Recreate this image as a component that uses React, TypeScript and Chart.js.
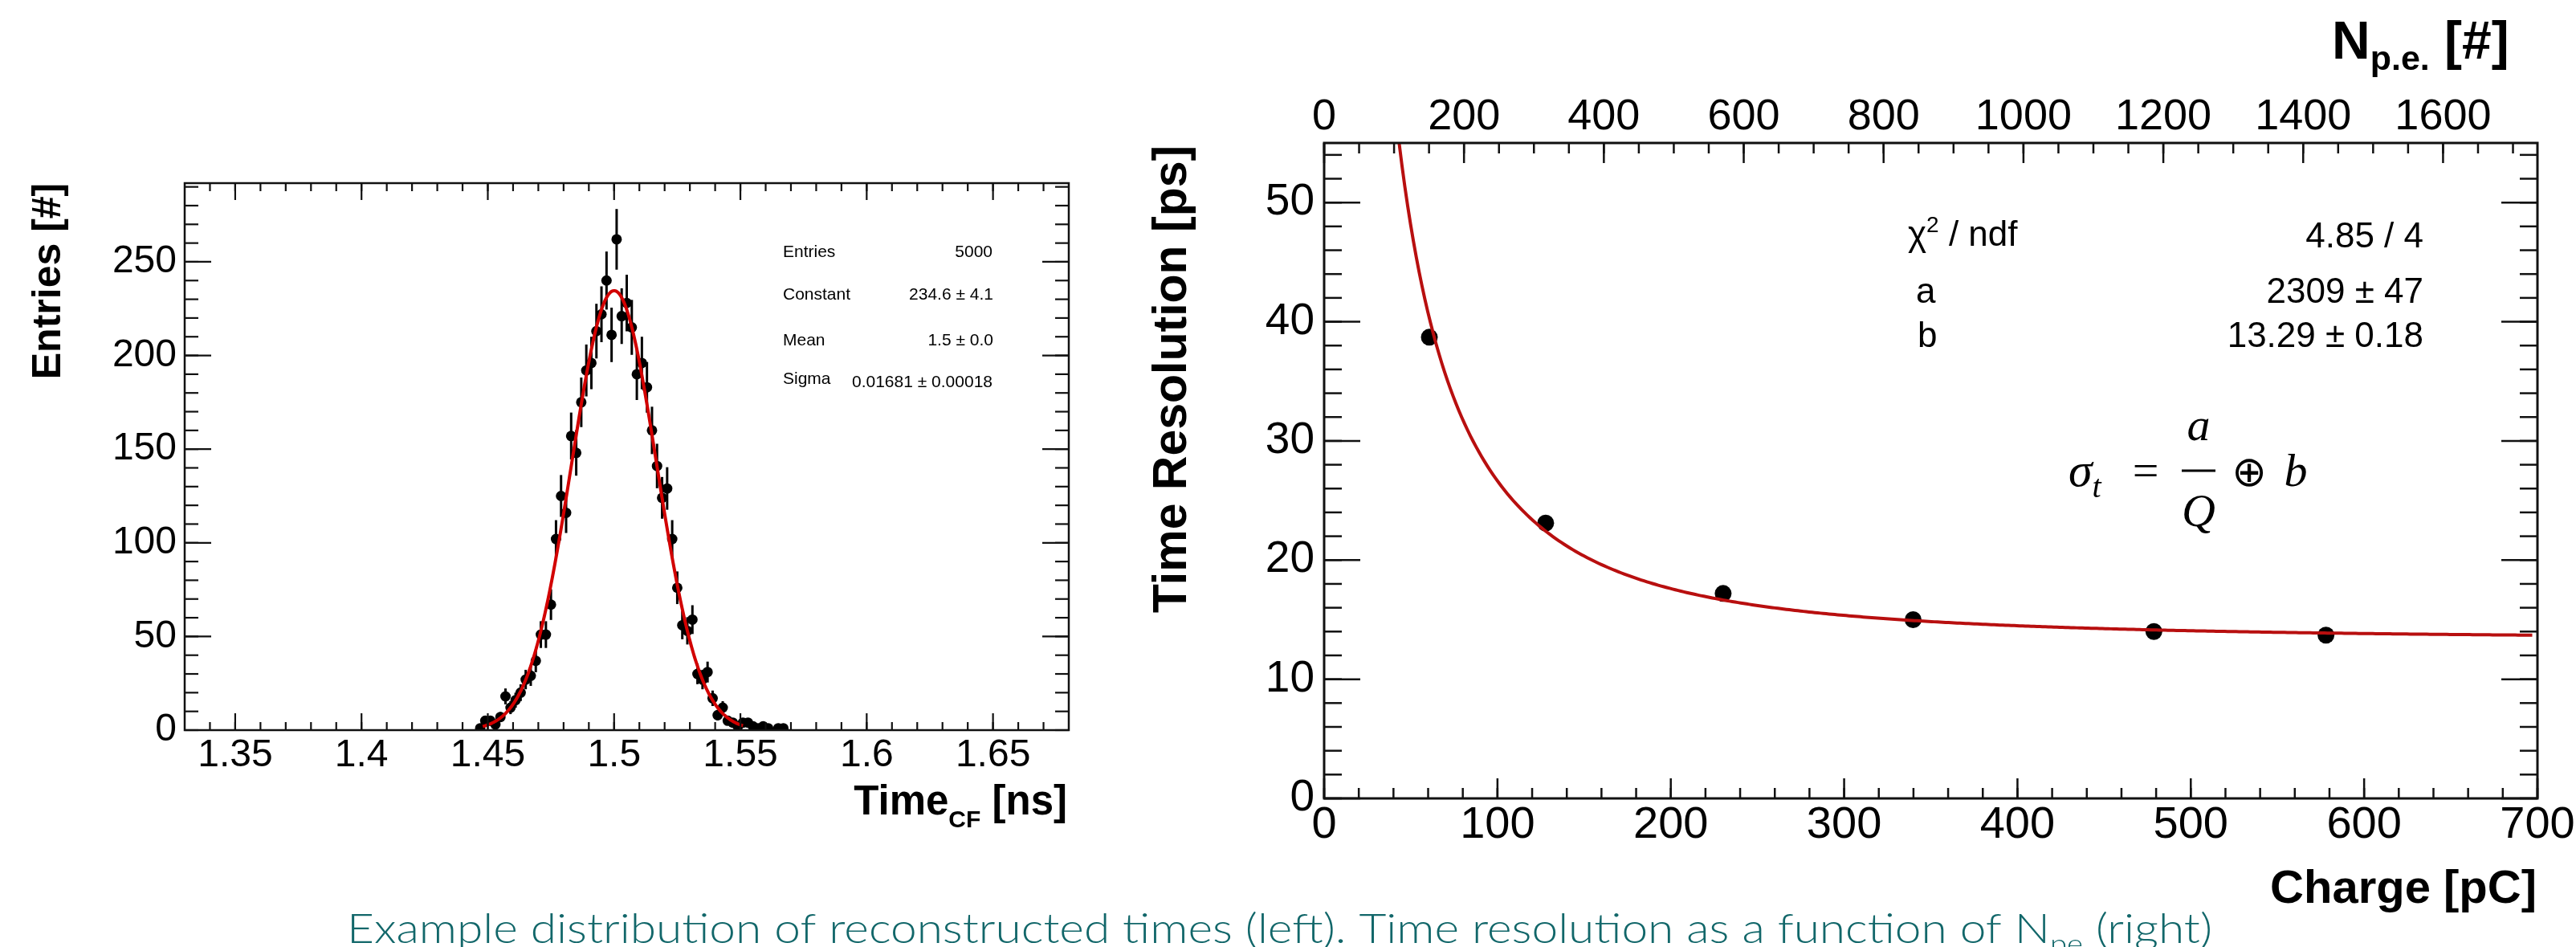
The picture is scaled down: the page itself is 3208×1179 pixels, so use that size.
import React, { useEffect, useRef } from 'react';
import { Chart, registerables } from 'chart.js';

Chart.register(...registerables);

const FONT = "'Liberation Sans', Arial, Helvetica, sans-serif";
const SERIF = "'Liberation Serif', 'DejaVu Serif', serif";

// ---------------- Left panel: Time_CF histogram ----------------
const timeBinCenters = [
  1.447, 1.449, 1.451, 1.453, 1.455, 1.457, 1.459, 1.461, 1.463, 1.465,
  1.467, 1.469, 1.471, 1.473, 1.475, 1.477, 1.479, 1.481, 1.483, 1.485,
  1.487, 1.489, 1.491, 1.493, 1.495, 1.497, 1.499, 1.501, 1.503, 1.505,
  1.507, 1.509, 1.511, 1.513, 1.515, 1.517, 1.519, 1.521, 1.523, 1.525,
  1.527, 1.529, 1.531, 1.533, 1.535, 1.537, 1.539, 1.541, 1.543, 1.545,
  1.547, 1.549, 1.551, 1.553, 1.555, 1.557, 1.559, 1.561, 1.563, 1.565,
  1.567,
];
const timeEntries = [
  1, 5, 5, 3, 7, 18, 12, 16, 20, 27,
  29, 37, 51, 51, 67, 102, 125, 116, 157, 148,
  175, 192, 196, 213, 222, 240, 211, 262, 221, 228,
  215, 190, 196, 183, 160, 141, 124, 129, 102, 76,
  56, 53, 59, 30, 27, 31, 17, 8, 12, 5,
  4, 2, 4, 4, 2, 1, 2, 1, 0, 1,
  1,
];
// Gaussian fit parameters (from the stats box)
const gaussConstant = 234.6;
const gaussMean = 1.5;
const gaussSigma = 0.01681;
const gaussFitRange = [1.448, 1.551];

const timeAxisRange = [1.33, 1.68];
const entriesAxisRange = [0, 292];
const timeTickLabels = [1.35, 1.4, 1.45, 1.5, 1.55, 1.6, 1.65];
const entriesTickLabels = [0, 50, 100, 150, 200, 250];

// ---------------- Right panel: time resolution vs charge ----------------
const chargeValues = [60.7, 127.8, 230.2, 339.8, 478.7, 578.0];
const resolutionValues = [38.7, 23.1, 17.2, 15.0, 14.0, 13.7];
// Fit sigma_t = a/Q (+) b
const fitA = 2309;
const fitB = 13.29;
const fitRangeQ = [40, 697];

const chargeAxisRange = [0, 700];
const resolutionAxisRange = [0, 55];
const npeAxisRange = [0, 1735];
const chargeTickLabels = [0, 100, 200, 300, 400, 500, 600, 700];
const resolutionTickLabels = [0, 10, 20, 30, 40, 50];
const npeTickLabels = [0, 200, 400, 600, 800, 1000, 1200, 1400, 1600];

// ---------------- helpers ----------------
function steps(from: number, to: number, step: number): number[] {
  const out: number[] = [];
  const n = Math.round((to - from) / step);
  for (let i = 0; i <= n; i++) out.push(+(from + i * step).toFixed(6));
  return out;
}

type Seg = { t: string; font: string; dy?: number };
type TextItem = {
  segs: Seg[];
  x: number;
  y: number;
  align?: 'left' | 'right' | 'center';
  baseline?: CanvasTextBaseline;
  rotate?: boolean;
  color?: string;
};

function drawRich(ctx: CanvasRenderingContext2D, item: TextItem) {
  ctx.save();
  ctx.fillStyle = item.color || '#000';
  ctx.textAlign = 'left';
  ctx.textBaseline = item.baseline || 'alphabetic';
  const widths = item.segs.map((s) => {
    ctx.font = s.font;
    return ctx.measureText(s.t).width;
  });
  const total = widths.reduce((a, b) => a + b, 0);
  let ox = item.x;
  let oy = item.y;
  if (item.rotate) {
    ctx.translate(item.x, item.y);
    ctx.rotate(-Math.PI / 2);
    ox = 0;
    oy = 0;
  }
  const align = item.align || 'left';
  let cx = align === 'left' ? ox : align === 'right' ? ox - total : ox - total / 2;
  item.segs.forEach((s, i) => {
    ctx.font = s.font;
    ctx.fillText(s.t, cx, oy + (s.dy || 0));
    cx += widths[i];
  });
  ctx.restore();
}

type TickSpec = {
  scale: string;
  sides: ('left' | 'right' | 'top' | 'bottom')[];
  major: number[];
  minor: number[];
  majorLen: number;
  minorLen: number;
};

function makeFramePlugin(id: string, ticks: TickSpec[], frameWidth: number, tickWidth: number) {
  return {
    id,
    afterDatasetsDraw(chart: any) {
      const { ctx, chartArea: a } = chart;
      ctx.save();
      ctx.strokeStyle = '#111';
      ctx.lineWidth = tickWidth;
      for (const t of ticks) {
        const scale = chart.scales[t.scale];
        const draw = (v: number, len: number) => {
          const p = scale.getPixelForValue(v);
          for (const side of t.sides) {
            ctx.beginPath();
            if (side === 'bottom') { ctx.moveTo(p, a.bottom); ctx.lineTo(p, a.bottom - len); }
            if (side === 'top') { ctx.moveTo(p, a.top); ctx.lineTo(p, a.top + len); }
            if (side === 'left') { ctx.moveTo(a.left, p); ctx.lineTo(a.left + len, p); }
            if (side === 'right') { ctx.moveTo(a.right, p); ctx.lineTo(a.right - len, p); }
            ctx.stroke();
          }
        };
        t.minor.forEach((v) => draw(v, t.minorLen));
        t.major.forEach((v) => draw(v, t.majorLen));
      }
      ctx.lineWidth = frameWidth;
      ctx.strokeRect(a.left, a.top, a.right - a.left, a.bottom - a.top);
      ctx.restore();
    },
  };
}

function makeTextPlugin(id: string, items: TextItem[], extra?: (ctx: CanvasRenderingContext2D) => void) {
  return {
    id,
    afterDraw(chart: any) {
      const ctx = chart.ctx as CanvasRenderingContext2D;
      items.forEach((it) => drawRich(ctx, it));
      if (extra) extra(ctx);
    },
  };
}

const errorBarPlugin = {
  id: 'poissonErrors',
  beforeDatasetsDraw(chart: any) {
    const idx = 1;
    const meta = chart.getDatasetMeta(idx);
    const ds = chart.data.datasets[idx];
    const ys = chart.scales.y;
    const { ctx, chartArea: a } = chart;
    ctx.save();
    ctx.beginPath();
    ctx.rect(a.left, a.top, a.right - a.left, a.bottom - a.top);
    ctx.clip();
    ctx.strokeStyle = '#000';
    ctx.lineWidth = 3;
    ds.data.forEach((pt: any, i: number) => {
      const el = meta.data[i];
      if (!el || pt.y <= 0) return;
      const err = Math.sqrt(pt.y); // Poisson error on bin content
      ctx.beginPath();
      ctx.moveTo(el.x, ys.getPixelForValue(pt.y - err));
      ctx.lineTo(el.x, ys.getPixelForValue(pt.y + err));
      ctx.stroke();
    });
    ctx.restore();
  },
};

function fmtTime(v: number) {
  return String(Number(v.toFixed(2)));
}

const CANVAS_H = 1179;

function leftConfig(): any {
  const histPoints = timeBinCenters
    .map((x, i) => ({ x, y: timeEntries[i] }))
    .filter((p) => p.y > 0);
  const gaussCurve: { x: number; y: number }[] = [];
  const n = 300;
  for (let i = 0; i <= n; i++) {
    const x = gaussFitRange[0] + ((gaussFitRange[1] - gaussFitRange[0]) * i) / n;
    gaussCurve.push({ x, y: gaussConstant * Math.exp(-0.5 * ((x - gaussMean) / gaussSigma) ** 2) });
  }
  const B = `bold 51px ${FONT}`;
  const items: TextItem[] = [
    { segs: [{ t: 'Entries [#]', font: `bold 50px ${FONT}` }], x: 75, y: 350, align: 'center', rotate: true },
    {
      segs: [
        { t: 'Time', font: B },
        { t: 'CF', font: `bold 30px ${FONT}`, dy: 16 },
        { t: ' [ns]', font: B },
      ],
      x: 1329, y: 1014, align: 'right',
    },
    { segs: [{ t: 'Entries', font: `21px ${FONT}` }], x: 975, y: 320 },
    { segs: [{ t: '5000', font: `21px ${FONT}` }], x: 1236, y: 320, align: 'right' },
    { segs: [{ t: 'Constant', font: `21px ${FONT}` }], x: 975, y: 373 },
    { segs: [{ t: '234.6 ± 4.1', font: `21px ${FONT}` }], x: 1237, y: 373, align: 'right' },
    { segs: [{ t: 'Mean', font: `21px ${FONT}` }], x: 975, y: 430 },
    { segs: [{ t: '1.5 ± 0.0', font: `21px ${FONT}` }], x: 1237, y: 430, align: 'right' },
    { segs: [{ t: 'Sigma', font: `21px ${FONT}` }], x: 975, y: 478 },
    { segs: [{ t: '0.01681 ± 0.00018', font: `21px ${FONT}` }], x: 1236, y: 482, align: 'right' },
  ];
  return {
    type: 'scatter',
    data: {
      datasets: [
        {
          label: 'Gaussian fit',
          data: gaussCurve,
          showLine: true,
          borderColor: '#d20000',
          borderWidth: 4,
          pointRadius: 0,
          order: 0,
        },
        {
          label: 'Entries',
          data: histPoints,
          showLine: false,
          pointRadius: 6.5,
          pointBackgroundColor: '#000',
          pointBorderColor: '#000',
          pointBorderWidth: 0,
          order: 1,
        },
      ],
    },
    options: {
      responsive: false,
      animation: false,
      events: [],
      layout: { padding: { left: 0, top: 228, right: 69, bottom: CANVAS_H - 909 - 80 } },
      plugins: { legend: { display: false }, tooltip: { enabled: false } },
      scales: {
        x: {
          type: 'linear',
          min: timeAxisRange[0],
          max: timeAxisRange[1],
          grid: { display: false, drawTicks: false },
          border: { display: false },
          ticks: {
            font: { family: FONT, size: 48, lineHeight: 1 },
            color: '#000',
            padding: 8,
            autoSkip: false,
            maxRotation: 0,
            minRotation: 0,
            callback: (v: any) => fmtTime(Number(v)),
          },
          afterBuildTicks: (s: any) => {
            s.ticks = timeTickLabels.map((v) => ({ value: v }));
          },
          afterFit: (s: any) => {
            s.height = 80;
          },
        },
        y: {
          type: 'linear',
          min: entriesAxisRange[0],
          max: entriesAxisRange[1],
          grid: { display: false, drawTicks: false },
          border: { display: false },
          ticks: {
            font: { family: FONT, size: 48, lineHeight: 1 },
            color: '#000',
            padding: 10,
            autoSkip: false,
            callback: (v: any) => String(v),
          },
          afterBuildTicks: (s: any) => {
            s.ticks = entriesTickLabels.map((v) => ({ value: v }));
          },
          afterFit: (s: any) => {
            s.width = 230;
          },
        },
      },
    },
    plugins: [
      errorBarPlugin,
      makeFramePlugin(
        'leftFrame',
        [
          { scale: 'x', sides: ['bottom', 'top'], major: timeTickLabels, minor: steps(1.34, 1.67, 0.01), majorLen: 21, minorLen: 10 },
          { scale: 'y', sides: ['left', 'right'], major: entriesTickLabels, minor: steps(0, 290, 10), majorLen: 33, minorLen: 17 },
        ],
        2.5,
        2.2
      ),
      makeTextPlugin('leftText', items),
    ],
  };
}

const RIGHT_W = 1908;

function rightConfig(): any {
  const points = chargeValues.map((x, i) => ({ x, y: resolutionValues[i] }));
  const fitCurve: { x: number; y: number }[] = [];
  const n = 400;
  for (let i = 0; i <= n; i++) {
    const q = fitRangeQ[0] + ((fitRangeQ[1] - fitRangeQ[0]) * i) / n;
    fitCurve.push({ x: q, y: Math.sqrt((fitA / q) ** 2 + fitB ** 2) });
  }
  const OX = 1400;
  const S44 = `44px ${FONT}`;
  const items: TextItem[] = [
    { segs: [{ t: 'Time Resolution [ps]', font: `bold 59px ${FONT}` }], x: 77, y: 472, align: 'center', rotate: true },
    { segs: [{ t: 'Charge [pC]', font: `bold 58px ${FONT}` }], x: 3159 - OX, y: 1124, align: 'right' },
    {
      segs: [
        { t: 'N', font: `bold 66px ${FONT}` },
        { t: 'p.e.', font: `bold 43px ${FONT}`, dy: 14 },
        { t: ' [#]', font: `bold 66px ${FONT}` },
      ],
      x: 2904 - OX, y: 73,
    },
    {
      segs: [
        { t: 'χ', font: S44 },
        { t: '2', font: `28px ${FONT}`, dy: -17 },
        { t: ' / ndf', font: S44 },
      ],
      x: 2376 - OX, y: 306,
    },
    { segs: [{ t: 'a', font: S44 }], x: 2386 - OX, y: 377 },
    { segs: [{ t: 'b', font: S44 }], x: 2388 - OX, y: 432 },
    { segs: [{ t: '4.85 / 4', font: S44 }], x: 3018 - OX, y: 308, align: 'right' },
    { segs: [{ t: '2309 ± 47', font: S44 }], x: 3018 - OX, y: 377, align: 'right' },
    { segs: [{ t: '13.29 ± 0.18', font: S44 }], x: 3018 - OX, y: 432, align: 'right' },
    // formula sigma_t = a/Q (+) b
    {
      segs: [
        { t: 'σ', font: `italic 60px ${SERIF}` },
        { t: 't', font: `italic 40px ${SERIF}`, dy: 14 },
      ],
      x: 2576 - OX, y: 605,
    },
    { segs: [{ t: '=', font: `58px ${SERIF}` }], x: 2672 - OX, y: 605, align: 'center' },
    { segs: [{ t: 'a', font: `italic 58px ${SERIF}` }], x: 2738 - OX, y: 548, align: 'center' },
    { segs: [{ t: 'Q', font: `italic 58px ${SERIF}` }], x: 2738 - OX, y: 655, align: 'center' },
    { segs: [{ t: '⊕', font: `52px 'DejaVu Sans', sans-serif` }], x: 2801 - OX, y: 605, align: 'center' },
    { segs: [{ t: 'b', font: `italic 58px ${SERIF}` }], x: 2859 - OX, y: 605, align: 'center' },
  ];
  const fractionBar = (ctx: CanvasRenderingContext2D) => {
    ctx.save();
    ctx.strokeStyle = '#000';
    ctx.lineWidth = 3;
    ctx.beginPath();
    ctx.moveTo(2717 - OX, 586);
    ctx.lineTo(2759 - OX, 586);
    ctx.stroke();
    ctx.restore();
  };
  return {
    type: 'scatter',
    data: {
      datasets: [
        {
          label: 'Fit',
          data: fitCurve,
          showLine: true,
          borderColor: '#b80f0f',
          borderWidth: 4,
          pointRadius: 0,
          order: 0,
        },
        {
          label: 'Resolution',
          data: points,
          showLine: false,
          pointRadius: 10.5,
          pointBackgroundColor: '#000',
          pointBorderColor: '#000',
          pointBorderWidth: 0,
          order: 1,
        },
      ],
    },
    options: {
      responsive: false,
      animation: false,
      events: [],
      layout: { padding: { left: 0, top: 68, right: RIGHT_W - 1760, bottom: CANVAS_H - 994 - 90 } },
      plugins: { legend: { display: false }, tooltip: { enabled: false } },
      scales: {
        x: {
          type: 'linear',
          position: 'bottom',
          min: chargeAxisRange[0],
          max: chargeAxisRange[1],
          grid: { display: false, drawTicks: false },
          border: { display: false },
          ticks: {
            font: { family: FONT, size: 56, lineHeight: 1 },
            color: '#000',
            padding: 6,
            autoSkip: false,
            maxRotation: 0,
            minRotation: 0,
            callback: (v: any) => String(v),
          },
          afterBuildTicks: (s: any) => {
            s.ticks = chargeTickLabels.map((v) => ({ value: v }));
          },
          afterFit: (s: any) => {
            s.height = 90;
          },
        },
        x2: {
          type: 'linear',
          position: 'top',
          min: npeAxisRange[0],
          max: npeAxisRange[1],
          grid: { display: false, drawTicks: false },
          border: { display: false },
          ticks: {
            font: { family: FONT, size: 54, lineHeight: 1 },
            color: '#000',
            padding: 5,
            autoSkip: false,
            maxRotation: 0,
            minRotation: 0,
            callback: (v: any) => String(v),
          },
          afterBuildTicks: (s: any) => {
            s.ticks = npeTickLabels.map((v) => ({ value: v }));
          },
          afterFit: (s: any) => {
            s.height = 110;
          },
        },
        y: {
          type: 'linear',
          min: resolutionAxisRange[0],
          max: resolutionAxisRange[1],
          grid: { display: false, drawTicks: false },
          border: { display: false },
          ticks: {
            font: { family: FONT, size: 55, lineHeight: 1 },
            color: '#000',
            padding: 12,
            autoSkip: false,
            callback: (v: any) => String(v),
          },
          afterBuildTicks: (s: any) => {
            s.ticks = resolutionTickLabels.map((v) => ({ value: v }));
          },
          afterFit: (s: any) => {
            s.width = 249;
          },
        },
      },
    },
    plugins: [
      makeFramePlugin(
        'rightFrame',
        [
          { scale: 'x', sides: ['bottom'], major: chargeTickLabels, minor: steps(0, 700, 20), majorLen: 25, minorLen: 13 },
          { scale: 'x2', sides: ['top'], major: npeTickLabels, minor: steps(0, 1700, 50), majorLen: 25, minorLen: 13 },
          { scale: 'y', sides: ['left', 'right'], major: resolutionTickLabels, minor: steps(0, 54, 2), majorLen: 45, minorLen: 22 },
        ],
        3,
        2.5
      ),
      makeTextPlugin('rightText', items, fractionBar),
    ],
  };
}

const captionMain = 'Example distribution of reconstructed times (left). Time resolution as a function of N';
const captionSub = 'pe';
const captionEnd = ' (right)';

function drawCaption(canvas: HTMLCanvasElement) {
  const ctx = canvas.getContext('2d');
  if (!ctx) return;
  ctx.clearRect(0, 0, canvas.width, canvas.height);
  const main = `300 52px Lato, 'Noto Sans', sans-serif`;
  const sub = `300 34px Lato, 'Noto Sans', sans-serif`;
  const segs = [
    { t: captionMain, font: main, dy: 0 },
    { t: captionSub, font: sub, dy: 13 },
    { t: captionEnd, font: main, dy: 0 },
  ];
  const widths = segs.map((s) => {
    ctx.font = s.font;
    return ctx.measureText(s.t).width;
  });
  const total = widths.reduce((a, b) => a + b, 0);
  const targetWidth = 2323;
  ctx.save();
  ctx.translate(432, 59);
  ctx.scale(targetWidth / total, 1);
  ctx.fillStyle = '#12676a';
  ctx.textBaseline = 'alphabetic';
  let x = 0;
  segs.forEach((s, i) => {
    ctx.font = s.font;
    ctx.fillText(s.t, x, s.dy);
    x += widths[i];
  });
  ctx.restore();
}

export default function App() {
  const leftRef = useRef<HTMLCanvasElement>(null);
  const rightRef = useRef<HTMLCanvasElement>(null);
  const capRef = useRef<HTMLCanvasElement>(null);

  useEffect(() => {
    const c1 = new Chart(leftRef.current as HTMLCanvasElement, leftConfig());
    const c2 = new Chart(rightRef.current as HTMLCanvasElement, rightConfig());
    if (capRef.current) drawCaption(capRef.current);
    return () => {
      c1.destroy();
      c2.destroy();
    };
  }, []);

  return (
    <div
      style={{
        position: 'absolute',
        left: 0,
        top: 0,
        width: 3208,
        height: 1179,
        overflow: 'hidden',
        background: '#fff',
      }}
    >
      <div style={{ position: 'absolute', left: 0, top: 0, width: 1400, height: CANVAS_H }}>
        <canvas ref={leftRef} width={1400} height={CANVAS_H} style={{ width: 1400, height: CANVAS_H }} />
      </div>
      <div style={{ position: 'absolute', left: 1400, top: 0, width: RIGHT_W, height: CANVAS_H }}>
        <canvas ref={rightRef} width={RIGHT_W} height={CANVAS_H} style={{ width: RIGHT_W, height: CANVAS_H }} />
      </div>
      <div style={{ position: 'absolute', left: 0, top: 1115, width: 3208, height: 64 }}>
        <canvas ref={capRef} width={3208} height={64} style={{ width: 3208, height: 64 }} />
      </div>
    </div>
  );
}
